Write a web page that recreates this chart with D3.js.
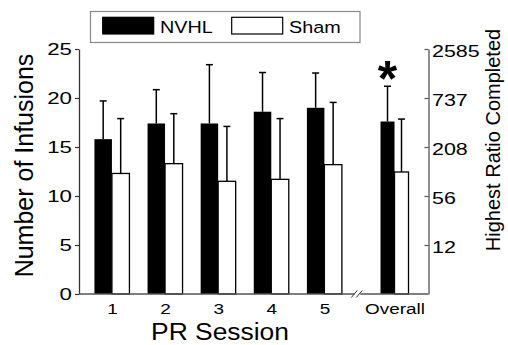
<!DOCTYPE html>
<html>
<head>
<meta charset="utf-8">
<script src="https://cdn.jsdelivr.net/npm/d3@7"></script>
<style>
  body { margin: 0; background: #fff; }
  svg { display: block; font-family: "Liberation Sans", Arial, sans-serif; }
</style>
</head>
<body>
<div id="chart"></div>
<script>
// data
const sessions = ['1', '2', '3', '4', '5', 'Overall'];
const nvhlMean = [15.8, 17.4, 17.4, 18.6, 19.0, 17.6];
const nvhlSem = [3.9, 3.45, 6.0, 4.0, 3.55, 3.6];
const shamMean = [12.3, 13.3, 11.5, 11.7, 13.2, 12.45];
const shamSem = [5.6, 5.1, 5.6, 6.2, 6.35, 5.4];
const infusionTicks = [0, 5, 10, 15, 20, 25];
const ratioTicks = ['12', '56', '208', '737', '2585'];
const significant = ['Overall'];

const width = 508, height = 345;
const margin = { top: 49, right: 79.5, bottom: 51, left: 79 };
const plotW = width - margin.left - margin.right;
const plotH = height - margin.top - margin.bottom;

const svg = d3.select('#chart').append('svg')
  .attr('width', width)
  .attr('height', height);

// sessions sit at 0..4, "Overall" is pushed past an axis break
const overallPos = 5.32;
const breakPos = 4.61;
const pos = (d, i) => d === 'Overall' ? overallPos : i;

const x = d3.scaleLinear()
  .domain([-0.62, 5.96])
  .range([0, plotW]);

const y = d3.scaleLinear()
  .domain([0, 25])
  .range([plotH, 0]);

// squeeze/stretch text horizontally to match the original lettering
function stretch(sel, sx) {
  sel.each(function () {
    const t = d3.select(this);
    const tx = +t.attr('x') || 0;
    t.attr('x', tx / sx).attr('transform', `scale(${sx},1)`);
  });
}

const g = svg.append('g')
  .attr('transform', `translate(${margin.left},${margin.top})`);

// bars
const rows = sessions.map((s, i) => ({
  s, i,
  nvhl: nvhlMean[i], nvhlErr: nvhlSem[i],
  sham: shamMean[i], shamErr: shamSem[i],
  bw: s === 'Overall' ? 14 : 17.5
}));

const grp = g.selectAll('.group')
  .data(rows)
  .enter().append('g')
  .attr('class', 'group')
  .attr('transform', d => `translate(${x(pos(d.s, d.i))},0)`);

// error bars first so the bars cover their lower part
grp.append('line')
  .attr('x1', d => -d.bw / 2).attr('x2', d => -d.bw / 2)
  .attr('y1', d => y(d.nvhl)).attr('y2', d => y(d.nvhl + d.nvhlErr))
  .attr('stroke', '#000').attr('stroke-width', 1.5);
grp.append('line')
  .attr('x1', d => -d.bw / 2 - 3.5).attr('x2', d => -d.bw / 2 + 3.5)
  .attr('y1', d => y(d.nvhl + d.nvhlErr)).attr('y2', d => y(d.nvhl + d.nvhlErr))
  .attr('stroke', '#000').attr('stroke-width', 1.5);
grp.append('line')
  .attr('x1', d => d.bw / 2).attr('x2', d => d.bw / 2)
  .attr('y1', d => y(d.sham)).attr('y2', d => y(d.sham + d.shamErr))
  .attr('stroke', '#000').attr('stroke-width', 1.5);
grp.append('line')
  .attr('x1', d => d.bw / 2 - 3.5).attr('x2', d => d.bw / 2 + 3.5)
  .attr('y1', d => y(d.sham + d.shamErr)).attr('y2', d => y(d.sham + d.shamErr))
  .attr('stroke', '#000').attr('stroke-width', 1.5);

grp.append('rect')
  .attr('x', d => -d.bw)
  .attr('y', d => y(d.nvhl))
  .attr('width', d => d.bw)
  .attr('height', d => plotH - y(d.nvhl))
  .attr('fill', '#000');

grp.append('rect')
  .attr('x', 0)
  .attr('y', d => y(d.sham))
  .attr('width', d => d.bw)
  .attr('height', d => plotH - y(d.sham))
  .attr('fill', '#fff')
  .attr('stroke', '#000')
  .attr('stroke-width', 1.3);

// significance star
grp.filter(d => significant.includes(d.s))
  .append('text')
  .attr('x', d => -d.bw / 2)
  .attr('y', d => y(d.nvhl + d.nvhlErr) + 10)
  .attr('text-anchor', 'middle')
  .attr('font-size', 50)
  .attr('font-weight', 'bold')
  .text('*');

// left axis
const yAxis = g.append('g')
  .attr('class', 'axis axis-y')
  .call(d3.axisLeft(y).tickValues(infusionTicks).tickSize(4).tickPadding(3).tickSizeOuter(0));
yAxis.select('.domain').attr('stroke', '#333').attr('stroke-width', 1.3);
yAxis.selectAll('.tick line').attr('stroke', '#333').attr('stroke-width', 1.2);
yAxis.selectAll('text').attr('font-size', 16.5).attr('fill', '#000')
  .attr('font-family', '"Liberation Sans", Arial, sans-serif');
stretch(yAxis.selectAll('text'), 1.35);

// right axis (highest ratio completed)
const rAxis = g.append('g')
  .attr('class', 'axis axis-r')
  .attr('transform', `translate(${plotW},0)`)
  .call(d3.axisRight(y)
    .tickValues(ratioTicks.map((_, i) => infusionTicks[i + 1]))
    .tickFormat((d, i) => ratioTicks[i])
    .tickSize(-4).tickPadding(3.5).tickSizeOuter(0));
rAxis.select('.domain').attr('stroke', '#555').attr('stroke-width', 1.3);
rAxis.selectAll('.tick line').attr('stroke', '#555').attr('stroke-width', 1.2);
rAxis.selectAll('text').attr('font-size', 16.5).attr('fill', '#000').attr('dy', '0.45em')
  .attr('font-family', '"Liberation Sans", Arial, sans-serif');
stretch(rAxis.selectAll('text'), 1.3);

// x axis: labels only, line drawn in two pieces around the break
const xAxis = g.append('g')
  .attr('class', 'axis axis-x')
  .attr('transform', `translate(0,${plotH})`)
  .call(d3.axisBottom(x)
    .tickValues(sessions.map(pos))
    .tickFormat((d, i) => sessions[i])
    .tickSize(0).tickPadding(9.5));
xAxis.select('.domain').remove();
xAxis.selectAll('text').attr('font-size', 15.5).attr('fill', '#000')
  .attr('font-family', '"Liberation Sans", Arial, sans-serif');
stretch(xAxis.selectAll('text'), 1.22);

const bx = x(breakPos);
xAxis.append('line')
  .attr('x1', 0).attr('x2', bx - 2.5).attr('y1', 0).attr('y2', 0)
  .attr('stroke', '#555').attr('stroke-width', 1.3);
xAxis.append('line')
  .attr('x1', bx + 3.5).attr('x2', plotW).attr('y1', 0).attr('y2', 0)
  .attr('stroke', '#555').attr('stroke-width', 1.3);
[-2.5, 2.5].forEach(off => {
  xAxis.append('line')
    .attr('x1', bx + off - 3).attr('x2', bx + off + 3)
    .attr('y1', 3.5).attr('y2', -3.5)
    .attr('stroke', '#333').attr('stroke-width', 1);
});

// axis titles
svg.append('text')
  .attr('transform', `translate(33,${margin.top + 116.5}) rotate(-90)`)
  .attr('text-anchor', 'middle')
  .attr('font-size', 25)
  .text('Number of Infusions');

svg.append('text')
  .attr('transform', 'translate(500,140) rotate(-90)')
  .attr('text-anchor', 'middle')
  .attr('font-size', 20)
  .text('Highest Ratio Completed');

svg.append('text')
  .attr('x', 220)
  .attr('y', 340)
  .attr('text-anchor', 'middle')
  .attr('font-size', 24)
  .attr('transform', 'translate(-22,0) scale(1.1,1)')
  .text('PR Session');

// legend
const legend = svg.append('g').attr('class', 'legend');
legend.append('rect')
  .attr('x', 90.5).attr('y', 11.5).attr('width', 269.5).attr('height', 31)
  .attr('fill', '#fff').attr('stroke', '#888').attr('stroke-width', 1.2);
const items = [
  { label: 'NVHL', fill: '#000', sx: 102.7, tx: 160 },
  { label: 'Sham', fill: '#fff', sx: 231.7, tx: 289 }
];
items.forEach(it => {
  legend.append('rect')
    .attr('x', it.sx).attr('y', 17.3).attr('width', 51).attr('height', 16.7)
    .attr('fill', it.fill).attr('stroke', '#000').attr('stroke-width', 1.2);
  legend.append('g')
    .attr('transform', `translate(${it.tx},32.8)`)
    .append('text')
    .attr('font-size', 16.5)
    .attr('transform', 'scale(1.2,1)')
    .text(it.label);
});
</script>
</body>
</html>
